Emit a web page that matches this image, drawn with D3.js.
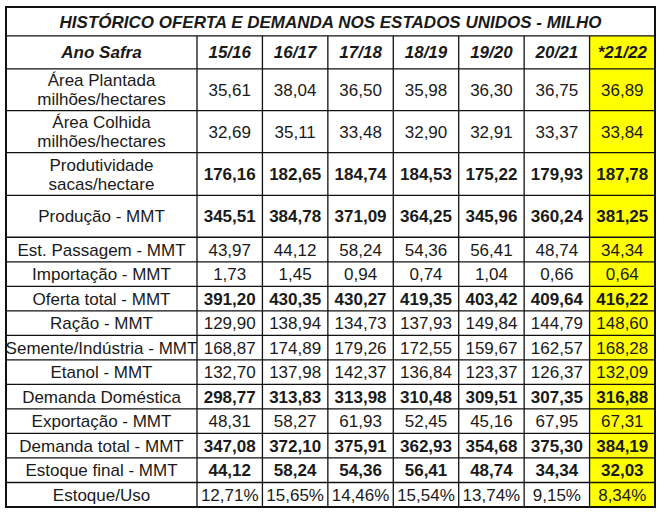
<!DOCTYPE html><html><head><meta charset="utf-8"><script src="https://cdn.jsdelivr.net/npm/d3@7"></script>
<style>body{margin:0;background:#fff}text{font-family:"Liberation Sans Narrow","Liberation Sans",Arial,sans-serif;fill:#1a1a1a}</style></head><body><svg id="c" width="669" height="514"></svg>
<script>
const title="HISTÓRICO OFERTA E DEMANDA NOS ESTADOS UNIDOS - MILHO";
const headerLabel="Ano Safra";
const seasons=["15/16","16/17","17/18","18/19","19/20","20/21","*21/22"];
const rowLabels=[["Área Plantada","milhões/hectares"],["Área Colhida","milhões/hectares"],["Produtividade","sacas/hectare"],["Produção - MMT"],["Est. Passagem - MMT"],["Importação - MMT"],["Oferta total - MMT"],["Ração - MMT"],["Semente/Indústria - MMT"],["Etanol - MMT"],["Demanda Doméstica"],["Exportação - MMT"],["Demanda total - MMT"],["Estoque final - MMT"],["Estoque/Uso"]];
const boldRows=[false,false,true,true,false,false,true,false,false,false,true,false,true,true,false];
const values=[
["35,61","38,04","36,50","35,98","36,30","36,75","36,89"],
["32,69","35,11","33,48","32,90","32,91","33,37","33,84"],
["176,16","182,65","184,74","184,53","175,22","179,93","187,78"],
["345,51","384,78","371,09","364,25","345,96","360,24","381,25"],
["43,97","44,12","58,24","54,36","56,41","48,74","34,34"],
["1,73","1,45","0,94","0,74","1,04","0,66","0,64"],
["391,20","430,35","430,27","419,35","403,42","409,64","416,22"],
["129,90","138,94","134,73","137,93","149,84","144,79","148,60"],
["168,87","174,89","179,26","172,55","159,67","162,57","168,28"],
["132,70","137,98","142,37","136,84","123,37","126,37","132,09"],
["298,77","313,83","313,98","310,48","309,51","307,35","316,88"],
["48,31","58,27","61,93","52,45","45,16","67,95","67,31"],
["347,08","372,10","375,91","362,93","354,68","375,30","384,19"],
["44,12","58,24","54,36","56,41","48,74","34,34","32,03"],
["12,71%","15,65%","14,46%","15,54%","13,74%","9,15%","8,34%"]];
const svg=d3.select("#c");
const L=6,R=655,T=7;
const x0=197;
const x=d3.scaleBand().domain(seasons).range([x0,R]);
const heights=[29,33,42,42,43,42].concat(d3.range(11).map(()=>24.6));
const keys=["title","header"].concat(d3.range(rowLabels.length).map(i=>"r"+i));
const cum=[0];heights.forEach((h,i)=>cum.push(cum[i]+h));
const y=d3.scaleLinear().domain([0,cum[cum.length-1]]).range([T,507]);
const rTop=i=>y(cum[i]), rBot=i=>y(cum[i+1]);
svg.append("rect").attr("x",x("*21/22")).attr("y",rTop(1)).attr("width",x.bandwidth()).attr("height",rBot(keys.length-1)-rTop(1)).attr("fill","#ffff00");
svg.append("text").attr("x",(L+R)/2).attr("y",(rTop(0)+rBot(0))/2).attr("dy","0.36em").attr("text-anchor","middle").attr("font-size",17).attr("font-weight","bold").attr("font-style","italic").text(title);
svg.append("text").attr("x",(L+x0)/2).attr("y",(rTop(1)+rBot(1))/2).attr("dy","0.36em").attr("text-anchor","middle").attr("font-size",17).attr("font-weight","bold").attr("font-style","italic").text(headerLabel);
seasons.forEach(s=>svg.append("text").attr("x",x(s)+x.bandwidth()/2).attr("y",(rTop(1)+rBot(1))/2).attr("dy","0.36em").attr("text-anchor","middle").attr("font-size",17).attr("font-weight","bold").attr("font-style","italic").text(s));
rowLabels.forEach((lab,i)=>{
 const k=i+2,cy=(rTop(k)+rBot(k))/2;
 lab.forEach((t,j)=>svg.append("text").attr("x",(L+x0)/2).attr("y",cy+(j-(lab.length-1)/2)*19).attr("dy","0.36em").attr("text-anchor","middle").attr("font-size",17).text(t));
 values[i].forEach((v,j)=>svg.append("text").attr("x",x(seasons[j])+x.bandwidth()/2).attr("y",cy).attr("dy","0.36em").attr("text-anchor","middle").attr("font-size",17).attr("font-weight",boldRows[i]?"bold":"normal").text(v));
});
const g=svg.append("g").attr("stroke","#111").attr("stroke-width",1.3);
for(let i=1;i<keys.length;i++) g.append("line").attr("x1",L).attr("x2",R).attr("y1",rTop(i)).attr("y2",rTop(i));
[x0].concat(seasons.slice(1).map(s=>x(s))).forEach(xx=>g.append("line").attr("x1",xx).attr("x2",xx).attr("y1",rTop(1)).attr("y2",507));
svg.append("rect").attr("x",L).attr("y",T).attr("width",R-L).attr("height",507-T).attr("fill","none").attr("stroke","#111").attr("stroke-width",2);
</script></body></html>
